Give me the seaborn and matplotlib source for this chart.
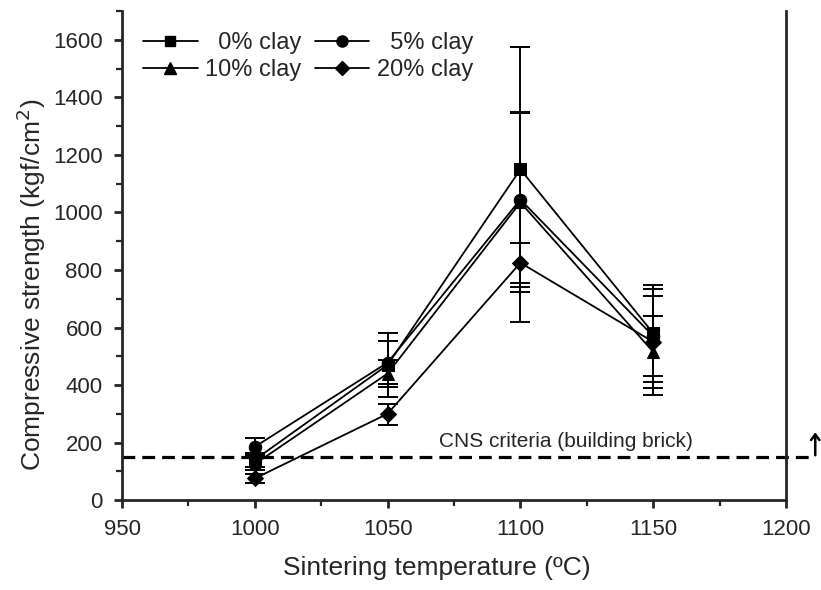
import numpy as np
import pandas as pd
import matplotlib.pyplot as plt
import seaborn as sns
from matplotlib.ticker import MultipleLocator

# values
temps = [1000, 1050, 1100, 1150]
clay_labels = ['0% clay', '5% clay', '10% clay', '20% clay']
strength_0 = [140, 470, 1150, 580]
strength_5 = [185, 478, 1045, 570]
strength_10 = [125, 440, 1035, 515]
strength_20 = [75, 300, 825, 550]
err_low_0 = [25, 110, 426, 168]
err_up_0 = [25, 110, 426, 168]
err_low_5 = [30, 75, 305, 140]
err_up_5 = [30, 75, 305, 140]
err_low_10 = [20, 47, 415, 125]
err_up_10 = [20, 47, 310, 125]
err_low_20 = [15, 38, 70, 185]
err_up_20 = [15, 35, 70, 185]
cns_limit = 150

series = [strength_0, strength_5, strength_10, strength_20]
err_low = [err_low_0, err_low_5, err_low_10, err_low_20]
err_up = [err_up_0, err_up_5, err_up_10, err_up_20]

df = pd.DataFrame({
    'temp': temps * 4,
    'strength': sum(series, []),
    'clay': [c for c in clay_labels for _ in temps],
})

sns.set_style('ticks')
plt.rcParams['font.family'] = ['Liberation Sans', 'DejaVu Sans']

fig = plt.figure(figsize=(8.21, 5.90), dpi=100)
ax = fig.add_axes([0.1486, 0.1525, 0.8088, 0.8285])

markers = {'0% clay': 's', '5% clay': 'o', '10% clay': '^', '20% clay': 'D'}
msizes = {'0% clay': 8, '5% clay': 9, '10% clay': 9, '20% clay': 8}

# error bars first so markers sit on top
for vals, lo, up in zip(series, err_low, err_up):
    ax.errorbar(temps, vals, yerr=[lo, up], fmt='none', ecolor='black',
                elinewidth=1.4, capsize=7, capthick=1.4, zorder=2)

sns.lineplot(data=df, x='temp', y='strength', style='clay', markers=markers,
             dashes=False, color='black', linewidth=1.3, markersize=9,
             markeredgecolor='black', legend=False, ax=ax, zorder=3)
for line, lab in zip(ax.get_lines()[-4:], clay_labels):
    line.set_markersize(msizes[lab])

# CNS criteria dashed line, running past the right axis
ax.plot([950, 1211], [cns_limit, cns_limit], color='black', linestyle=(0, (4, 2.2)),
        linewidth=2.3, clip_on=False, zorder=2)
ax.annotate('', xy=(1211, 245), xytext=(1211, cns_limit - 4),
            arrowprops=dict(arrowstyle='->,head_width=0.3,head_length=0.4',
                            color='black', lw=1.8),
            annotation_clip=False)
ax.text(1117, 170, 'CNS criteria (building brick)', fontsize=15, ha='center', va='bottom')

ax.set_xlim(950, 1200)
ax.set_ylim(0, 1700)
ax.xaxis.set_major_locator(MultipleLocator(50))
ax.xaxis.set_minor_locator(MultipleLocator(25))
ax.yaxis.set_minor_locator(MultipleLocator(100))
ax.set_yticks(np.arange(0, 1601, 200))
ax.tick_params(which='major', length=6, width=2, labelsize=16, direction='out', pad=8)
ax.tick_params(which='minor', length=4, width=1.6, direction='out')
ax.spines['top'].set_visible(False)
for s in ['left', 'right', 'bottom']:
    ax.spines[s].set_linewidth(2)

ax.set_xlabel('Sintering temperature (ºC)', fontsize=19)
ax.set_ylabel('Compressive strength (kgf/cm$^2$)', fontsize=19)
ax.xaxis.set_label_coords(0.474, -0.115)
ax.yaxis.set_label_coords(-0.112, 0.44)

handles = [plt.Line2D([], [], color='black', marker=markers[c], markersize=msizes[c] - 1,
                      linewidth=1.3) for c in clay_labels]
legend_labels = ['  0% clay', '  5% clay', '10% clay', '20% clay']
# matplotlib fills legend columns first, so reorder to get rows 0/5 and 10/20
order = [0, 2, 1, 3]
ax.legend([handles[i] for i in order], [legend_labels[i] for i in order], ncol=2,
          frameon=False, fontsize=17, loc='upper left', bbox_to_anchor=(0.0, 1.0),
          handlelength=2.3, handletextpad=0.3, columnspacing=0.6, labelspacing=0.2,
          borderaxespad=0.5)

plt.savefig('out.png', dpi=100)
